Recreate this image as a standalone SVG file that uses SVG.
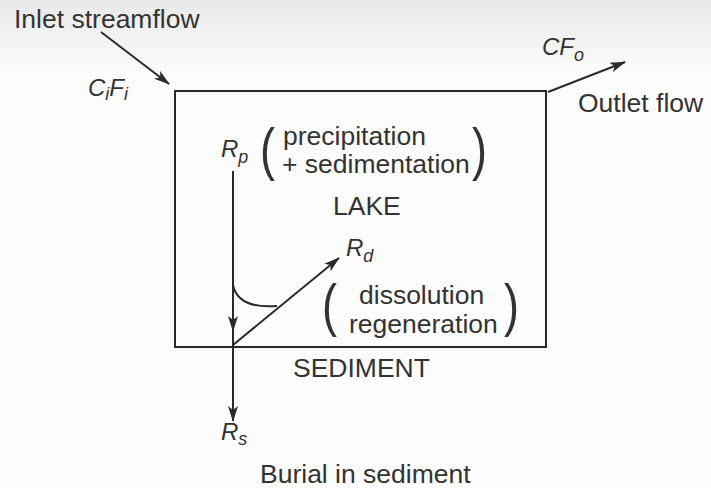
<svg xmlns="http://www.w3.org/2000/svg" width="711" height="488" viewBox="0 0 711 488">
<defs>
<style>
text{font-family:"Liberation Sans",Arial,sans-serif;fill:#333;font-size:26.5px}
.it{font-style:italic}
.sub{font-size:18px;font-style:italic}
.par{font-size:30px}
.ln{stroke:#2a2a2a;stroke-width:2;fill:none}
</style>
<linearGradient id="bg" x1="0" y1="0" x2="0" y2="1">
<stop offset="0" stop-color="#e9e9e9"/>
<stop offset="1" stop-color="#fcfcfc"/>
</linearGradient>
<marker id="ah" markerWidth="16" markerHeight="10" refX="15" refY="5" orient="auto" markerUnits="userSpaceOnUse">
<path d="M0,0 L16,5 L0,10 L4,5 Z" fill="#2a2a2a"/>
</marker>
</defs>
<rect width="711" height="488" fill="#fcfcfc"/>
<rect width="711" height="75" fill="url(#bg)"/>
<g id="lake">
<rect x="175" y="91" width="371" height="256" class="ln"/>
<text x="333" y="215">LAKE</text>
</g>
<g id="sediment"><text x="293" y="377">SEDIMENT</text></g>
<g id="inlet">
<text x="14" y="28">Inlet streamflow</text>
<text x="88" y="96" class="it" style="font-size:24px">C<tspan class="sub" dy="4">i</tspan><tspan dy="-4">F</tspan><tspan class="sub" dy="4">i</tspan></text>
</g>
<g id="outlet">
<text x="542" y="55" class="it" style="font-size:24px">CF<tspan class="sub" dy="6">o</tspan></text>
<text x="578" y="112">Outlet flow</text>
</g>
<g id="rp">
<text x="221" y="157" class="it" style="font-size:24px">R<tspan class="sub" dy="6">p</tspan></text>
<text class="par" transform="translate(260,168.6) scale(1.5,1.9)">(</text>
<text x="283" y="145">precipitation</text>
<text x="282" y="173">+ sedimentation</text>
<text class="par" transform="translate(472,168.6) scale(1.5,1.9)">)</text>
</g>
<g id="rd">
<text x="346" y="256" class="it" style="font-size:24px">R<tspan class="sub" dy="6">d</tspan></text>
<text class="par" transform="translate(322,324.6) scale(1.5,1.9)">(</text>
<text x="359" y="304">dissolution</text>
<text x="349" y="333">regeneration</text>
<text class="par" transform="translate(504,324.6) scale(1.5,1.9)">)</text>
</g>
<g id="rs">
<text x="221" y="440" class="it" style="font-size:24px">R<tspan class="sub" dy="5">s</tspan></text>
<text x="260" y="483">Burial in sediment</text>
</g>
<g id="connectors">
<line x1="101" y1="32" x2="169" y2="84" class="ln" marker-end="url(#ah)"/>
<line x1="548" y1="92" x2="625" y2="62" class="ln" marker-end="url(#ah)"/>
<line x1="233" y1="171" x2="233" y2="331" class="ln" marker-end="url(#ah)"/>
<line x1="233" y1="331" x2="233" y2="421" class="ln" marker-end="url(#ah)"/>
<line x1="233" y1="345" x2="339" y2="258" class="ln" marker-end="url(#ah)"/>
<path d="M233,285 Q238,309 277,306" class="ln" stroke-width="1.5"/>
</g>
</svg>
